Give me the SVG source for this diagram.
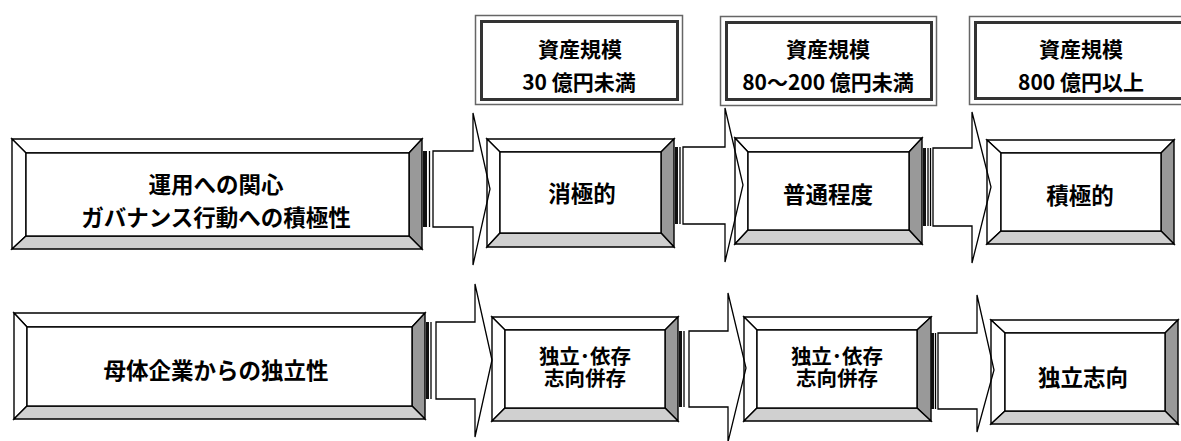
<svg xmlns="http://www.w3.org/2000/svg" width="1181" height="441" viewBox="0 0 1181 441">
<style>
.t{font-family:"Noto Sans CJK JP","Liberation Sans",sans-serif;font-weight:bold;fill:#000;text-anchor:middle;dominant-baseline:central}
.hd{font-size:21px}
.mn{font-size:22.5px}
.sm{font-size:20.5px}
.b{stroke:#000;stroke-width:1.4;stroke-linejoin:miter}
.w{fill:#fff}
.lt{fill:#d0d0d0}
.dk{fill:#999}
.ho{fill:#fff;stroke:#666;stroke-width:1.5}
.hi{fill:none;stroke:#333;stroke-width:3}
.ar{fill:none;stroke:#000;stroke-width:1.3;stroke-linejoin:miter}
.st{fill:#111}
</style>
<rect width="1181" height="441" fill="#fff"/>

<g id="scale1">
<rect class="ho" x="475.5" y="15.5" width="207" height="89"/>
<rect class="hi" x="481.5" y="21.5" width="196" height="78"/>
<text class="t hd" x="580" y="48">資産規模</text>
<text class="t hd" x="579" y="81">30 億円未満</text>
</g>
<g id="scale2">
<rect class="ho" x="720.5" y="16.5" width="216" height="89"/>
<rect class="hi" x="726.5" y="22.5" width="205" height="77"/>
<text class="t hd" x="828" y="48">資産規模</text>
<text class="t hd" x="828" y="81">80～200 億円未満</text>
</g>
<g id="scale3">
<rect class="ho" x="969.5" y="16.5" width="230" height="88"/>
<rect class="hi" x="975.5" y="22.5" width="220" height="76"/>
<text class="t hd" x="1081" y="48">資産規模</text>
<text class="t hd" x="1081" y="81">800 億円以上</text>
</g>

<g id="nodeA">
<polygon class="b w" points="12,139 422,139 409,153 26,153"/>
<polygon class="b w" points="12,139 26,153 26,236 12,249"/>
<polygon class="b dk" points="422,139 422,249 409,236 409,153"/>
<polygon class="b lt" points="12,249 26,236 409,236 422,249"/>
<rect class="b w" x="26" y="153" width="383" height="83"/>
<text class="t mn" x="216" y="183">運用への関心</text>
<text class="t mn" x="216" y="216">ガバナンス行動への積極性</text>
</g>
<g id="nodeB">
<polygon class="b w" points="487,139 674,139 661,152 500,152"/>
<polygon class="b w" points="487,139 500,152 500,233 487,247"/>
<polygon class="b dk" points="674,139 674,247 661,233 661,152"/>
<polygon class="b lt" points="487,247 500,233 661,233 674,247"/>
<rect class="b w" x="500" y="152" width="161" height="81"/>
<text class="t mn" x="582" y="192">消極的</text>
</g>
<g id="nodeC">
<polygon class="b w" points="735,138 922,138 909,152 748,152"/>
<polygon class="b w" points="735,138 748,152 748,230 735,244"/>
<polygon class="b dk" points="922,138 922,244 909,230 909,152"/>
<polygon class="b lt" points="735,244 748,230 909,230 922,244"/>
<rect class="b w" x="748" y="152" width="161" height="78"/>
<text class="t mn" x="828" y="193">普通程度</text>
</g>
<g id="nodeD">
<polygon class="b w" points="987,140 1174,140 1161,153 1001,153"/>
<polygon class="b w" points="987,140 1001,153 1001,231 987,244"/>
<polygon class="b dk" points="1174,140 1174,244 1161,231 1161,153"/>
<polygon class="b lt" points="987,244 1001,231 1161,231 1174,244"/>
<rect class="b w" x="1001" y="153" width="160" height="78"/>
<text class="t mn" x="1080" y="194">積極的</text>
</g>

<g id="nodeE">
<polygon class="b w" points="14,313 425,313 412,327 27,327"/>
<polygon class="b w" points="14,313 27,327 27,406 14,419"/>
<polygon class="b dk" points="425,313 425,419 412,406 412,327"/>
<polygon class="b lt" points="14,419 27,406 412,406 425,419"/>
<rect class="b w" x="27" y="327" width="385" height="79"/>
<text class="t mn" x="216" y="369">母体企業からの独立性</text>
</g>
<g id="nodeF">
<polygon class="b w" points="492,317 678,317 665,330 505,330"/>
<polygon class="b w" points="492,317 505,330 505,408 492,421"/>
<polygon class="b dk" points="678,317 678,421 665,408 665,330"/>
<polygon class="b lt" points="492,421 505,408 665,408 678,421"/>
<rect class="b w" x="505" y="330" width="160" height="78"/>
<text class="t sm" x="585" y="355"><tspan x="585" y="355">独立･依存</tspan><tspan x="585" y="377">志向併存</tspan></text>
</g>
<g id="nodeG">
<polygon class="b w" points="744,317 931,317 917,330 757,330"/>
<polygon class="b w" points="744,317 757,330 757,408 744,421"/>
<polygon class="b dk" points="931,317 931,421 917,408 917,330"/>
<polygon class="b lt" points="744,421 757,408 917,408 931,421"/>
<rect class="b w" x="757" y="330" width="160" height="78"/>
<text class="t sm" x="837" y="355"><tspan x="837" y="355">独立･依存</tspan><tspan x="837" y="377">志向併存</tspan></text>
</g>
<g id="nodeH">
<polygon class="b w" points="991,320 1178,320 1165,333 1005,333"/>
<polygon class="b w" points="991,320 1005,333 1005,411 991,424"/>
<polygon class="b dk" points="1178,320 1178,424 1165,411 1165,333"/>
<polygon class="b lt" points="991,424 1005,411 1165,411 1178,424"/>
<rect class="b w" x="1005" y="333" width="160" height="78"/>
<text class="t mn" x="1083" y="376">独立志向</text>
</g>

<g id="connectors">
<rect class="st" x="423" y="151" width="4" height="76"/>
<line class="ar" x1="429.5" y1="151" x2="429.5" y2="227"/>
<polygon class="ar" points="433,151 473,151 473,113 490,189 473,265 473,227 433,227"/>
<rect class="st" x="675" y="147" width="3" height="77"/>
<line class="ar" x1="680" y1="147" x2="680" y2="224"/>
<polygon class="ar" points="683,147 725,147 725,108 743,185 725,262 725,224 683,224"/>
<rect class="st" x="923" y="148" width="3" height="78"/>
<line class="ar" x1="928" y1="148" x2="928" y2="226"/>
<line class="ar" x1="930.5" y1="148" x2="930.5" y2="226"/>
<polygon class="ar" points="933,148 972,148 972,112 991,187 972,263 972,226 933,226"/>
<rect class="st" x="426" y="322" width="3" height="77"/>
<line class="ar" x1="431" y1="322" x2="431" y2="399"/>
<polygon class="ar" points="436,322 475,322 475,284 492,360 475,437 475,399 436,399"/>
<rect class="st" x="679" y="331" width="3" height="76"/>
<line class="ar" x1="684" y1="331" x2="684" y2="407"/>
<polygon class="ar" points="689,331 728,331 728,293 746,368 728,442 728,407 689,407"/>
<rect class="st" x="931" y="333" width="3" height="76"/>
<line class="ar" x1="935.5" y1="333" x2="935.5" y2="409"/>
<polygon class="ar" points="938,333 977,333 977,295 994,370 977,432 977,409 938,409"/>
</g>
</svg>
